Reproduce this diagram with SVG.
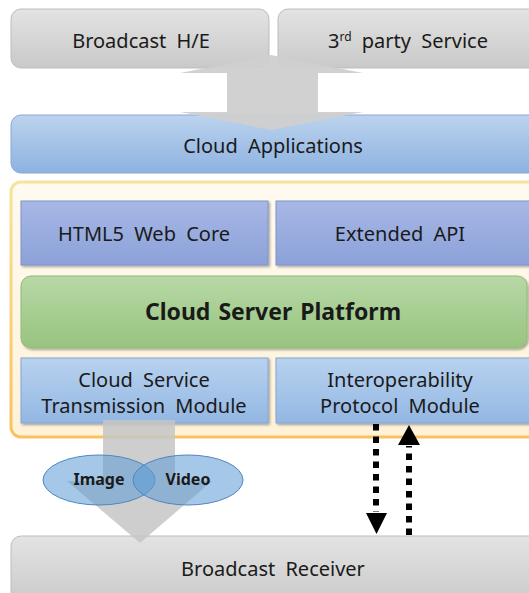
<svg xmlns="http://www.w3.org/2000/svg" width="529" height="593" viewBox="0 0 529 593">
<defs>
<linearGradient id="gGray" x1="0" y1="0" x2="0" y2="1"><stop offset="0" stop-color="#e3e3e3"/><stop offset="1" stop-color="#c9c9c9"/></linearGradient>
<linearGradient id="gCloud" x1="0" y1="0" x2="0" y2="1"><stop offset="0" stop-color="#bcd3ee"/><stop offset="1" stop-color="#8db2e0"/></linearGradient>
<linearGradient id="gCont" x1="0" y1="0" x2="0" y2="1"><stop offset="0" stop-color="#fffaf0"/><stop offset="1" stop-color="#fff2d8"/></linearGradient>
<linearGradient id="gContS" x1="0" y1="0" x2="0" y2="1"><stop offset="0" stop-color="#f6e39c"/><stop offset="1" stop-color="#f9c25e"/></linearGradient>
<linearGradient id="gPurp" x1="0" y1="0" x2="0" y2="1"><stop offset="0" stop-color="#a8b8e6"/><stop offset="1" stop-color="#8ba1d8"/></linearGradient>
<linearGradient id="gGreen" x1="0" y1="0" x2="0" y2="1"><stop offset="0" stop-color="#b7d8a6"/><stop offset="1" stop-color="#98c47f"/></linearGradient>
<linearGradient id="gLBlue" x1="0" y1="0" x2="0" y2="1"><stop offset="0" stop-color="#b8d2ef"/><stop offset="1" stop-color="#93b7e3"/></linearGradient>
<filter id="sh" x="-5%" y="-10%" width="110%" height="130%"><feDropShadow dx="1.5" dy="1.5" stdDeviation="1" flood-color="#000" flood-opacity="0.35"/></filter>
</defs>
<style>
text{font-family:"Noto Sans","Open Sans","DejaVu Sans",sans-serif;fill:#1a1a1a;text-anchor:middle;}
.t{font-size:20px;word-spacing:5px;}
.b{font-size:23px;font-weight:bold;word-spacing:2px;}
.s{font-size:16px;font-weight:bold;}
.gray{fill:url(#gGray);stroke:#bdbdbd;stroke-width:1;}
.dash{stroke:#000;stroke-width:6;stroke-dasharray:6.5 6;fill:none;}
.head{fill:#000;}
</style>
<rect width="529" height="593" fill="#fff"/>

<g id="broadcast-he"><rect class="gray" x="11" y="9" width="258" height="59" rx="10"/><text class="t" x="141" y="48">Broadcast H/E</text></g>
<g id="third-party"><rect class="gray" x="278" y="9" width="262" height="59" rx="10"/><text class="t" x="408" y="48">3<tspan font-size="12" dy="-7">rd</tspan><tspan dy="7"> party Service</tspan></text></g>

<g id="cloud-apps"><rect x="11" y="115" width="530" height="58" rx="10" fill="url(#gCloud)" stroke="#86a8d6"/><text class="t" x="273" y="153">Cloud Applications</text></g>

<g id="container"><rect x="11" y="182" width="530" height="255" rx="10" fill="url(#gCont)" stroke="url(#gContS)" stroke-width="3"/></g>

<g id="html5"><rect x="21" y="201" width="247" height="64" fill="url(#gPurp)" stroke="#7e93c9" filter="url(#sh)"/><text class="t" x="144" y="241">HTML5 Web Core</text></g>
<g id="extended-api"><rect x="276" y="201" width="260" height="64" fill="url(#gPurp)" stroke="#7e93c9" filter="url(#sh)"/><text class="t" x="400" y="241">Extended API</text></g>

<g id="cloud-server"><rect x="21" y="276" width="506" height="72" rx="10" fill="url(#gGreen)" stroke="#8fbb78" filter="url(#sh)"/><text class="b" x="273" y="320">Cloud Server Platform</text></g>

<g id="cstm"><rect x="21" y="358" width="247" height="65" fill="url(#gLBlue)" stroke="#82a6d4" filter="url(#sh)"/><text class="t" x="144" y="387">Cloud Service</text><text class="t" x="144" y="413">Transmission Module</text></g>
<g id="ipm"><rect x="276" y="358" width="260" height="65" fill="url(#gLBlue)" stroke="#82a6d4" filter="url(#sh)"/><text class="t" x="400" y="387">Interoperability</text><text class="t" x="400" y="413">Protocol Module</text></g>

<g id="broadcast-receiver"><rect class="gray" x="11" y="536" width="530" height="70" rx="10"/><text class="t" x="273" y="576">Broadcast Receiver</text></g>

<g id="connectors">
<path d="M271,55 L363,73 L318,73 L318,112 L363,112 L271,130 L180,112 L227,112 L227,73 L180,73 Z" fill="#cfcfcf" opacity="0.95"/>
<path d="M103,420 L175,420 L175,481 L212,481 L140,543 L67,481 L103,481 Z" fill="#c6c6c6" opacity="0.85"/>
<line class="dash" x1="376" y1="424" x2="376" y2="512"/>
<polygon class="head" points="366,513 387,513 376.5,534"/>
<line class="dash" x1="409" y1="535" x2="409" y2="446"/>
<polygon class="head" points="398,445 420,445 409,425"/>
</g>

<g id="image"><ellipse cx="99" cy="480" rx="56" ry="25" fill="#5b9bd5" fill-opacity="0.55" stroke="#4f86c0"/><text class="s" x="99" y="485">Image</text></g>
<g id="video"><ellipse cx="188" cy="480" rx="55" ry="25" fill="#5b9bd5" fill-opacity="0.55" stroke="#4f86c0"/><text class="s" x="188" y="485">Video</text></g>
</svg>
